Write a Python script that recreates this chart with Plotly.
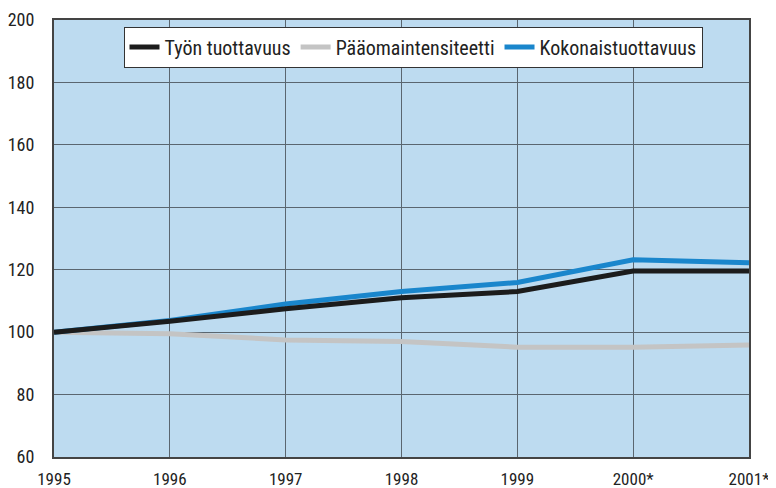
import plotly.graph_objects as go

years = [1995, 1996, 1997, 1998, 1999, 2000, 2001]
tick_labels = ["1995", "1996", "1997", "1998", "1999", "2000*", "2001*"]
tyon = [100, 103.5, 107.5, 111, 113, 119.6, 119.6]
paaoma = [100, 99.5, 97.5, 97, 95.2, 95.2, 95.9]
kokonais = [100, 103.7, 109, 113, 115.9, 123.2, 122.2]

font_family = "Liberation Sans Narrow, Arial Narrow, Roboto Condensed, sans-serif"

fig = go.Figure()
fig.add_trace(go.Scatter(x=years, y=paaoma, mode="lines", name="Pääomaintensiteetti",
                         line=dict(color="#c4c4c4", width=5), legendrank=2))
fig.add_trace(go.Scatter(x=years, y=kokonais, mode="lines", name="Kokonaistuottavuus",
                         line=dict(color="#1a86cc", width=5), legendrank=3))
fig.add_trace(go.Scatter(x=years, y=tyon, mode="lines", name="Työn tuottavuus",
                         line=dict(color="#1c1c1c", width=5), legendrank=1))

fig.update_layout(
    width=768, height=480,
    margin=dict(l=46, r=27, t=12, b=31),
    paper_bgcolor="white",
    plot_bgcolor="#bddbf0",
    font=dict(family=font_family, size=17, color="#222"),
    showlegend=True,
    legend=dict(
        orientation="h", x=0.1, y=0.985, xanchor="left", yanchor="top",
        bgcolor="white", bordercolor="#333", borderwidth=1,
        font=dict(family=font_family, size=20, color="#222"),
        itemwidth=30, tracegroupgap=0, traceorder="normal",
    ),
    xaxis=dict(
        range=[1995, 2001], tickvals=years, ticktext=tick_labels,
        showgrid=True, gridcolor="#5a6670", gridwidth=1,
        showline=True, linecolor="#444", linewidth=2, mirror=True,
        ticks="", zeroline=False, automargin=False, ticklabelstandoff=6,
        tickfont=dict(family=font_family, size=17, color="#222"),
    ),
    yaxis=dict(
        range=[60, 200], tickvals=[60, 80, 100, 120, 140, 160, 180, 200],
        showgrid=True, gridcolor="#5a6670", gridwidth=1,
        showline=True, linecolor="#444", linewidth=2, mirror=True,
        ticks="", zeroline=False, automargin=False, ticklabelstandoff=14,
        tickfont=dict(family=font_family, size=18, color="#222"),
    ),
)

fig.write_html("out.html")
